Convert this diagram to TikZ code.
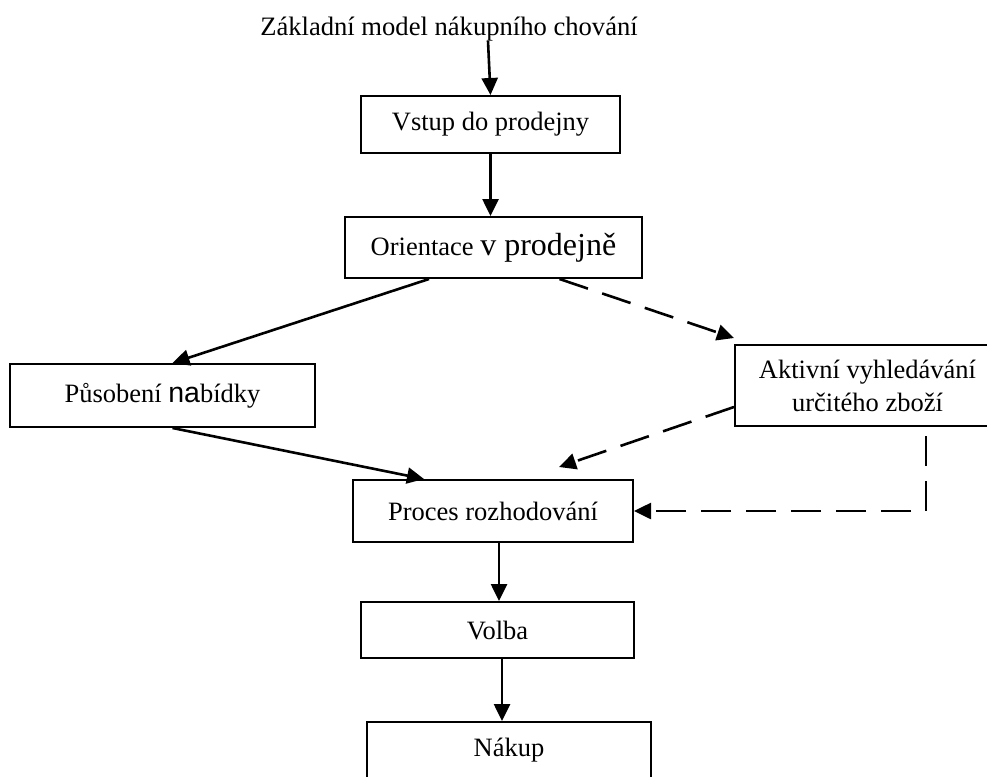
\documentclass[tikz,border=0pt]{standalone}
\usepackage{fontspec}
\setmainfont{Liberation Serif}
\newfontfamily\nasans{Liberation Sans}
\usetikzlibrary{arrows.meta,calc}
\begin{document}
\begin{tikzpicture}[x=1pt,y=-1pt,
  box/.style={draw,line width=2pt,rectangle,inner sep=0pt,align=center,font=\fontsize{26.5}{33}\selectfont},
  arr/.style={line width=2.6pt,-{Triangle[length=17pt,width=16pt]}},
  darr/.style={arr,dash pattern=on 30pt off 15pt}]
\useasboundingbox (0,0) rectangle (987,776);
\node[font=\fontsize{26.6}{33}\selectfont] (title) at (449,29) {Základní model nákupního chování};
\node[box,minimum width=259pt,minimum height=57pt] (vstup) at (490.5,124.5) {Vstup do prodejny};
\node[box,minimum width=297pt,minimum height=61pt] (orient) at (493.5,247.5) {Orientace {\fontsize{32}{33}\selectfont v prodejně}};
\node[box,minimum width=305pt,minimum height=63pt] (pusob) at (162.5,395.5) {Působení {\nasans\fontsize{28.5}{33}\selectfont na}bídky};
\node[box,minimum width=265pt,minimum height=81pt] (aktiv) at (867.5,385.5) {Aktivní vyhledávání\\určitého zboží};
\node[box,minimum width=280pt,minimum height=62pt] (proces) at (493,511) {Proces rozhodování};
\node[box,minimum width=273pt,minimum height=56pt] (volba) at (497.5,630) {Volba};
\node[box,minimum width=284pt,minimum height=56pt] (nakup) at (509,750) {Nákup};
\coordinate (t1) at (488,41);
\draw[arr] (t1) -- (vstup.north);
\draw[arr] (vstup.south) -- (vstup.south |- orient.north);
\draw[arr] ($(orient.south west)+(85,0)$) -- ($(pusob.north)+(10,0)$);
\draw[darr] ($(orient.south)+(66,0)$) -- ($(aktiv.north west)+(0,-6)$);
\draw[arr] ($(pusob.south)+(10,0)$) -- ($(proces.north west)+(72,0)$);
\draw[darr] ($(aktiv.west)+(0,21.5)$) -- ($(proces.north east)+(-75,-12)$);
\coordinate (c1) at ($(aktiv.south west)+(192,9)$);
\draw[darr] (c1) |- (proces.east);
\draw[arr] ($(proces.south)+(6,0)$) -- ($(proces.south |- volba.north)+(6,0)$);
\draw[arr] ($(volba.south)+(4.5,0)$) -- ($(volba.south |- nakup.north)+(4.5,0)$);
\end{tikzpicture}
\end{document}
